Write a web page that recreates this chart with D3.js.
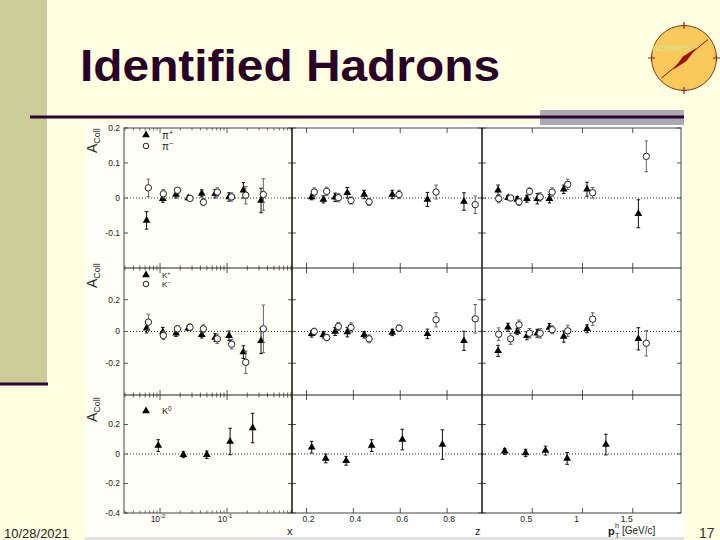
<!DOCTYPE html>
<html>
<head>
<meta charset="utf-8">
<script src="https://cdn.jsdelivr.net/npm/d3@7"></script>
<style>
	body { margin: 0; background: #ffffe1; }
	svg { display: block; font-family: "Liberation Sans", Arial, sans-serif; }
</style>
</head>
<body>
<svg id="slide" width="720" height="540"></svg>
<script>
// ----------------------------------------
// DATA

// bin centres (filled / open series are drawn slightly apart)
var xPosPlus   = [0.0063, 0.0110, 0.0173, 0.0264, 0.0419, 0.0662, 0.107, 0.175, 0.321];
var xPosMinus  = [0.0067, 0.0112, 0.0182, 0.0280, 0.0443, 0.0716, 0.117, 0.190, 0.348];
var zPosPlus   = [0.222, 0.272, 0.322, 0.374, 0.446, 0.566, 0.716, 0.872];
var zPosMinus  = [0.233, 0.286, 0.336, 0.390, 0.467, 0.595, 0.753, 0.920];
var ptPosPlus  = [0.160, 0.259, 0.351, 0.447, 0.550, 0.671, 0.813, 1.045, 1.556];
var ptPosMinus = [0.166, 0.285, 0.368, 0.473, 0.579, 0.698, 0.853, 1.101, 1.635];

// pi+ / pi-
var piPlusX      = [-0.064, -0.002, 0.010, 0.000, 0.013, 0.012, 0.003, 0.022, -0.007];
var piPlusXErr   = [0.025, 0.010, 0.010, 0.006, 0.010, 0.012, 0.012, 0.022, 0.035];
var piMinusX     = [0.029, 0.012, 0.022, -0.001, -0.012, 0.017, 0.003, 0.008, 0.010];
var piMinusXErr  = [0.025, 0.012, 0.008, 0.005, 0.010, 0.012, 0.012, 0.025, 0.045];
var piPlusZ      = [0.003, -0.004, 0.002, 0.015, 0.010, 0.010, -0.004, -0.010];
var piPlusZErr   = [0.008, 0.010, 0.012, 0.015, 0.012, 0.012, 0.020, 0.025];
var piMinusZ     = [0.017, 0.019, 0.001, -0.007, -0.011, 0.010, 0.017, -0.019];
var piMinusZErr  = [0.012, 0.012, 0.012, 0.010, 0.010, 0.012, 0.020, 0.025];
var piPlusPt     = [0.022, 0.001, -0.004, -0.002, -0.002, -0.002, 0.025, 0.025, -0.045];
var piPlusPtErr  = [0.015, 0.006, 0.008, 0.010, 0.015, 0.012, 0.012, 0.020, 0.040];
var piMinusPt    = [-0.002, 0.000, -0.011, 0.019, 0.003, 0.017, 0.039, 0.015, 0.119];
var piMinusPtErr = [0.012, 0.006, 0.010, 0.010, 0.012, 0.012, 0.015, 0.015, 0.044];

// K+ / K-
var kPlusX      = [0.021, -0.004, -0.011, 0.021, -0.021, -0.038, -0.027, -0.130, -0.059];
var kPlusXErr   = [0.030, 0.030, 0.020, 0.015, 0.020, 0.025, 0.030, 0.040, 0.080];
var kMinusX     = [0.059, -0.025, 0.017, 0.027, 0.017, -0.046, -0.080, -0.194, 0.017];
var kMinusXErr  = [0.050, 0.025, 0.020, 0.020, 0.025, 0.030, 0.030, 0.070, 0.150];
var kPlusZ      = [-0.015, -0.021, 0.000, -0.004, -0.021, -0.006, -0.015, -0.059];
var kPlusZErr   = [0.020, 0.020, 0.025, 0.030, 0.020, 0.020, 0.030, 0.060];
var kMinusZ     = [0.000, -0.038, 0.032, 0.025, -0.046, 0.021, 0.074, 0.080];
var kMinusZErr  = [0.020, 0.020, 0.025, 0.030, 0.025, 0.020, 0.045, 0.090];
var kPlusPt     = [-0.122, 0.027, 0.000, -0.027, -0.011, 0.025, -0.032, 0.017, -0.046];
var kPlusPtErr  = [0.035, 0.025, 0.020, 0.025, 0.025, 0.025, 0.035, 0.025, 0.070];
var kMinusPt    = [-0.017, -0.046, 0.042, -0.011, -0.011, 0.011, 0.004, 0.078, -0.074];
var kMinusPtErr = [0.040, 0.035, 0.030, 0.030, 0.030, 0.025, 0.035, 0.040, 0.080];

// K0
var k0XPos  = [0.0094, 0.0223, 0.0498, 0.111, 0.241];
var k0X     = [0.057, -0.005, -0.005, 0.085, 0.176];
var k0XErr  = [0.040, 0.020, 0.025, 0.090, 0.100];
var k0ZPos  = [0.222, 0.282, 0.369, 0.478, 0.609, 0.780];
var k0Z     = [0.046, -0.030, -0.046, 0.057, 0.098, 0.064];
var k0ZErr  = [0.040, 0.030, 0.030, 0.040, 0.070, 0.100];
var k0PtPos = [0.226, 0.434, 0.632, 0.847, 1.233];
var k0Pt    = [0.018, 0.007, 0.023, -0.030, 0.064];
var k0PtErr = [0.020, 0.025, 0.030, 0.040, 0.070];

// ticks
var yTicks1 = [0.2, 0.1, 0, -0.1];
var yTicks2 = [0.2, 0, -0.2];
var yTicks3 = [0.2, 0, -0.2, -0.4];
var xTicks = [0.01, 0.1];
var xTickExp = ["-2", "-1"];
var zTicks = [0.2, 0.4, 0.6, 0.8];
var ptTicks = [0.5, 1, 1.5];
var ptTickLabels = ["0.5", "1", "1.5"];

// ----------------------------------------
// SLIDE

var svg = d3.select("#slide");
var dark = "#330033";

svg.append("rect").attr("width", 720).attr("height", 540).attr("fill", "#ffffe1");
svg.append("rect").attr("x", 0).attr("y", 0).attr("width", 47).attr("height", 383).attr("fill", "#cccc99");
svg.append("line").attr("x1", 0).attr("x2", 48).attr("y1", 384).attr("y2", 384)
	.attr("stroke", dark).attr("stroke-width", 3);

// picture area
svg.append("rect").attr("x", 85).attr("y", 124).attr("width", 599).attr("height", 414).attr("fill", "#fff");
svg.append("rect").attr("x", 85).attr("y", 124).attr("width", 207).attr("height", 414).attr("fill", "#fffff7");
svg.append("rect").attr("x", 85).attr("y", 537).attr("width", 599).attr("height", 3).attr("fill", "#e2e2e2");

// rule under the title
svg.append("rect").attr("x", 540).attr("y", 110).attr("width", 144).attr("height", 15).attr("fill", "#aaaab2");
svg.append("line").attr("x1", 30).attr("x2", 684).attr("y1", 117).attr("y2", 117)
	.attr("stroke", dark).attr("stroke-width", 3);

svg.append("text").attr("x", 80).attr("y", 81)
	.attr("font-size", 45).attr("font-weight", "bold").attr("fill", "#2a0028")
	.attr("textLength", 420).attr("lengthAdjust", "spacingAndGlyphs")
	.text("Identified Hadrons");

// compass logo
var logo = svg.append("g").attr("transform", "translate(684,58)");
logo.append("circle").attr("r", 32.5).attr("fill", "#f9c95b").attr("stroke", "#7a3a1a").attr("stroke-width", 1);
logo.append("text").attr("x", -32).attr("y", -7).attr("font-size", 9).attr("font-weight", "bold")
	.attr("fill", "#d4e690").attr("opacity", 0.85).text("HERMES");
logo.append("line").attr("x1", -22.5).attr("y1", 20).attr("x2", 24).attr("y2", -18.5)
	.attr("stroke", "#8e1010").attr("stroke-width", 1);
logo.append("path").attr("d", "M-11,11.7 L-1,-1.5 L12.4,-10 L2.5,3 Z").attr("fill", "#9b1010");
logo.append("path").attr("d", "M0,-36 L0,-29 M-2.5,-32.5 h5 M0,29 L0,36 M-2.5,32.5 h5 M-36,0 L-29,0 M-32.5,-2.5 v5 M29,0 L36,0 M32.5,-2.5 v5")
	.attr("stroke", "#a02020").attr("stroke-width", 1.2);

svg.append("text").attr("x", 4).attr("y", 538).attr("font-size", 13).attr("fill", "#222").text("10/28/2021");
svg.append("text").attr("x", 699).attr("y", 538).attr("font-size", 14).attr("fill", "#333").text("17");

// ----------------------------------------
// PANELS

var rows = [
	{ top: 128, bottom: 268, domain: [-0.2, 0.2], ticks: yTicks1 },
	{ top: 268, bottom: 395, domain: [-0.4, 0.4], ticks: yTicks2 },
	{ top: 395, bottom: 513, domain: [-0.4, 0.4], ticks: yTicks3 }
];
rows.forEach(function (r) {
	r.scale = d3.scaleLinear().domain(r.domain).range([r.bottom, r.top]);
});

var xScale = d3.scaleLog().domain([0.0029, 0.93]).range([124, 292]);
var zScale = d3.scaleLinear().domain([0.138, 0.949]).range([292, 482]);
var ptScale = d3.scaleLinear().domain([0, 1.98]).range([482, 681]);

// log minor ticks
var xMinor = [];
[0.001, 0.01, 0.1].forEach(function (dec) {
	for (var k = 2; k <= 9; k++) {
		var v = dec * k;
		if (v > xScale.domain()[0] && v < xScale.domain()[1]) xMinor.push(v);
	}
});

var cols = [
	{ scale: xScale, ticks: xTicks, minor: xMinor },
	{ scale: zScale, ticks: zTicks, minor: [] },
	{ scale: ptScale, ticks: ptTicks, minor: [] }
];

var series = [
	[
		[[xPosPlus, piPlusX, piPlusXErr, true], [xPosMinus, piMinusX, piMinusXErr, false]],
		[[zPosPlus, piPlusZ, piPlusZErr, true], [zPosMinus, piMinusZ, piMinusZErr, false]],
		[[ptPosPlus, piPlusPt, piPlusPtErr, true], [ptPosMinus, piMinusPt, piMinusPtErr, false]]
	],
	[
		[[xPosPlus, kPlusX, kPlusXErr, true], [xPosMinus, kMinusX, kMinusXErr, false]],
		[[zPosPlus, kPlusZ, kPlusZErr, true], [zPosMinus, kMinusZ, kMinusZErr, false]],
		[[ptPosPlus, kPlusPt, kPlusPtErr, true], [ptPosMinus, kMinusPt, kMinusPtErr, false]]
	],
	[
		[[k0XPos, k0X, k0XErr, true]],
		[[k0ZPos, k0Z, k0ZErr, true]],
		[[k0PtPos, k0Pt, k0PtErr, true]]
	]
];

var plot = svg.append("g");
var tri = d3.symbol().type(d3.symbolTriangle).size(26);

rows.forEach(function (row, ri) {
	cols.forEach(function (col, ci) {
		var xs = col.scale, ys = row.scale;
		var x0 = xs.range()[0], x1 = xs.range()[1];
		var g = plot.append("g");

		// zero line
		g.append("line").attr("x1", x0).attr("x2", x1).attr("y1", ys(0)).attr("y2", ys(0))
			.attr("stroke", "#333").attr("stroke-dasharray", "1,2");

		// y ticks, both sides
		g.selectAll(null).data(row.ticks).enter().append("path")
			.attr("d", function (d) {
				var y = ys(d);
				return "M" + x0 + "," + y + "h4M" + x1 + "," + y + "h-4";
			})
			.attr("stroke", "#555");

		// x ticks, top and bottom
		g.selectAll(null).data(col.ticks).enter().append("path")
			.attr("d", function (d) {
				var x = xs(d);
				return "M" + x + "," + row.bottom + "v-5M" + x + "," + row.top + "v5";
			})
			.attr("stroke", "#555");
		g.selectAll(null).data(col.minor).enter().append("path")
			.attr("d", function (d) {
				var x = xs(d);
				return "M" + x + "," + row.bottom + "v-2.5M" + x + "," + row.top + "v2.5";
			})
			.attr("stroke", "#666");

		series[ri][ci].forEach(function (s) {
			var pts = s[0].map(function (p, i) { return { x: p, y: s[1][i], e: s[2][i] }; });
			var col2 = s[3] ? "#111" : "#666";

			g.selectAll(null).data(pts).enter().append("path")
				.attr("d", function (d) {
					var x = xs(d.x), yt = ys(d.y + d.e), yb = ys(d.y - d.e);
					return "M" + x + "," + yt + "V" + yb + "M" + (x - 1.8) + "," + yt + "h3.6M" + (x - 1.8) + "," + yb + "h3.6";
				})
				.attr("stroke", col2).attr("stroke-width", 1).attr("fill", "none");

			if (s[3]) {
				g.selectAll(null).data(pts).enter().append("path")
					.attr("d", tri)
					.attr("transform", function (d) { return "translate(" + xs(d.x) + "," + ys(d.y) + ")"; })
					.attr("fill", "#000");
			} else {
				g.selectAll(null).data(pts).enter().append("circle")
					.attr("cx", function (d) { return xs(d.x); })
					.attr("cy", function (d) { return ys(d.y); })
					.attr("r", 3.2)
					.attr("fill", "#fff").attr("stroke", "#222").attr("stroke-width", 1);
			}
		});
	});
});

// frame
var frame = plot.append("g").attr("fill", "none");
frame.append("rect").attr("x", 124).attr("y", 128).attr("width", 557).attr("height", 385)
	.attr("stroke", "#444").attr("stroke-width", 1);
[292, 482].forEach(function (x) {
	frame.append("line").attr("x1", x).attr("x2", x).attr("y1", 128).attr("y2", 513)
		.attr("stroke", "#000").attr("stroke-width", 1.4);
});
[268, 395].forEach(function (y) {
	frame.append("line").attr("x1", 124).attr("x2", 681).attr("y1", y).attr("y2", y)
		.attr("stroke", "#222").attr("stroke-width", 1.2);
});

// ----------------------------------------
// AXIS LABELS

var labels = svg.append("g").attr("fill", "#222");

rows.forEach(function (row) {
	labels.selectAll(null).data(row.ticks).enter().append("text")
		.attr("x", 120).attr("y", function (d) { return row.scale(d); })
		.attr("dy", "0.35em").attr("text-anchor", "end").attr("font-size", 8.5)
		.text(function (d) { return String(d); });
});

// y titles
[153, 288, 422].forEach(function (y) {
	var t = labels.append("text").attr("transform", "translate(97," + y + ") rotate(-90)").attr("font-size", 14);
	t.append("tspan").text("A");
	t.append("tspan").attr("font-size", 9).attr("dy", 3).text("Coll");
});

var bottom = rows[2].bottom;
xTicks.forEach(function (d, i) {
	var t = labels.append("text").attr("x", xScale(d) - 2).attr("y", bottom + 9)
		.attr("text-anchor", "middle").attr("font-size", 8.5);
	t.append("tspan").text("10");
	t.append("tspan").attr("font-size", 6).attr("dy", -4).text(xTickExp[i]);
});
labels.selectAll(null).data(zTicks).enter().append("text")
	.attr("x", function (d) { return zScale(d) + 2; }).attr("y", bottom + 9)
	.attr("text-anchor", "middle").attr("font-size", 8.5)
	.text(function (d) { return d.toFixed(1); });
labels.selectAll(null).data(ptTicks).enter().append("text")
	.attr("x", function (d) { return ptScale(d) - 6; }).attr("y", bottom + 9)
	.attr("text-anchor", "middle").attr("font-size", 8.5)
	.text(function (d, i) { return ptTickLabels[i]; });

labels.append("text").attr("x", 287).attr("y", 535).attr("font-size", 11).text("x");
labels.append("text").attr("x", 475).attr("y", 535).attr("font-size", 11).text("z");
labels.append("text").attr("x", 608).attr("y", 535).attr("font-size", 11).attr("font-weight", "bold").text("p");
labels.append("text").attr("x", 615).attr("y", 528).attr("font-size", 7).text("h");
labels.append("text").attr("x", 615).attr("y", 538).attr("font-size", 7).text("T");
labels.append("text").attr("x", 622).attr("y", 534).attr("font-size", 10).text("[GeV/c]");

// ----------------------------------------
// LEGENDS

function legendRow(x, y, filled, base, sup, size) {
	if (filled) {
		labels.append("path").attr("d", tri).attr("transform", "translate(" + x + "," + y + ")").attr("fill", "#000");
	} else {
		labels.append("circle").attr("cx", x).attr("cy", y).attr("r", 2.8)
			.attr("fill", "none").attr("stroke", "#222");
	}
	var t = labels.append("text").attr("x", x + 16).attr("y", y + size * 0.35).attr("font-size", size);
	t.append("tspan").text(base);
	t.append("tspan").attr("font-size", size * 0.7).attr("dy", -size * 0.4).text(sup);
}
legendRow(146, 135, true, "\u03c0", "+", 10);
legendRow(146, 146, false, "\u03c0", "\u2212", 10);
legendRow(146, 275, true, "K", "+", 8);
legendRow(146, 284, false, "K", "\u2212", 8);
legendRow(146, 411, true, "K", "0", 9);
</script>
</body>
</html>
